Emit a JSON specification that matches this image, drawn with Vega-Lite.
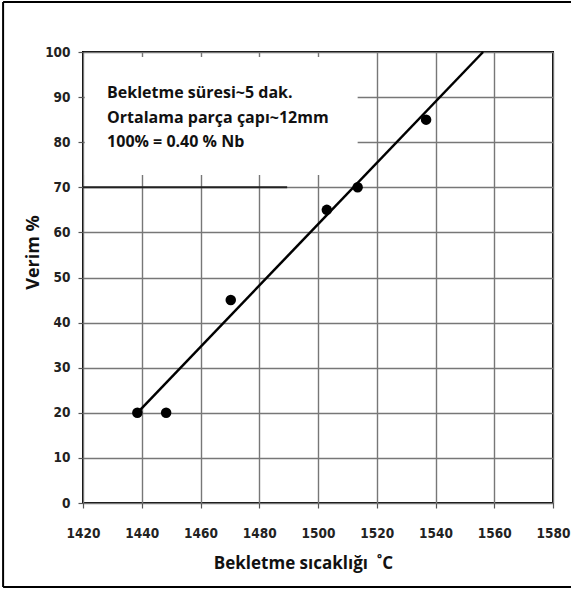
{
  "$schema": "https://vega.github.io/schema/vega-lite/v6.json",
  "autosize": "none",
  "width": 470,
  "height": 451,
  "padding": {"left": 83, "top": 52, "right": 18, "bottom": 86},
  "background": "white",
  "config": {
    "view": {"stroke": "#000", "strokeWidth": 2},
    "axis": {
      "domain": false,
      "grid": true,
      "gridColor": "#777",
      "gridWidth": 1.4,
      "gridOpacity": 1,
      "tickColor": "#555",
      "tickWidth": 1.2,
      "tickSize": 5,
      "labelFont": "Liberation Sans Narrow, DejaVu Sans Condensed, Arial",
      "labelFontWeight": "bold",
      "labelFontSize": 13.5,
      "labelColor": "#222",
      "labelFlush": false,
      "labelOverlap": false,
      "titleFont": "Open Sans",
      "titleFontWeight": "bold",
      "titleColor": "#111"
    }
  },
  "datasets": {
    "points": [
      {"temp": 1438.5, "verim": 20},
      {"temp": 1448.3, "verim": 20},
      {"temp": 1470.3, "verim": 45},
      {"temp": 1503.0, "verim": 65},
      {"temp": 1513.5, "verim": 70},
      {"temp": 1536.8, "verim": 85}
    ],
    "fit": [
      {"temp": 1438.5, "verim": 20},
      {"temp": 1556.2, "verim": 100}
    ],
    "box": [
      {"x1": 1420.6, "x2": 1513.5, "y1": 72.7, "y2": 98.9}
    ],
    "bold70": [
      {"x1": 1420, "x2": 1489.5, "y": 70}
    ],
    "note": [
      {"x": 1428.2, "y": 90.9, "t": "Bekletme süresi~5 dak."},
      {"x": 1428.2, "y": 85.4, "t": "Ortalama parça çapı~12mm"},
      {"x": 1428.2, "y": 80.0, "t": "100% = 0.40 % Nb"}
    ],
    "frame": [
      {"x1": 1392.8, "x2": 1392.8, "y1": -18.6, "y2": 111.1},
      {"x1": 1392.8, "x2": 1600, "y1": 111.1, "y2": 111.1},
      {"x1": 1392.8, "x2": 1600, "y1": -18.6, "y2": -18.6}
    ]
  },
  "layer": [
    {
      "data": {"name": "box"},
      "mark": {"type": "rect", "fill": "white", "stroke": null},
      "encoding": {
        "x": {"field": "x1", "type": "quantitative",
          "scale": {"domain": [1420, 1580], "nice": false, "zero": false},
          "axis": {"values": [1420, 1440, 1460, 1480, 1500, 1520, 1540, 1560, 1580], "format": "d",
            "title": "Bekletme sıcaklığı \u00a0˚C", "titleFontSize": 17, "titleX": 220, "titleY": 60,
            "titleBaseline": "middle", "titleAnchor": null, "labelPadding": 18, "labelBaseline": "top"}},
        "x2": {"field": "x2"},
        "y": {"field": "y1", "type": "quantitative",
          "scale": {"domain": [0, 100], "nice": false},
          "axis": {"values": [0, 10, 20, 30, 40, 50, 60, 70, 80, 90, 100],
            "title": "Verim %", "titleFontSize": 18, "titleX": -50, "titleY": 200,
            "titleBaseline": "middle", "titleAnchor": null, "labelPadding": 8}},
        "y2": {"field": "y2"}
      }
    },
    {
      "data": {"name": "bold70"},
      "mark": {"type": "rule", "color": "#222", "strokeWidth": 2},
      "encoding": {
        "x": {"field": "x1", "type": "quantitative"},
        "x2": {"field": "x2"},
        "y": {"field": "y", "type": "quantitative"}
      }
    },
    {
      "data": {"name": "fit"},
      "mark": {"type": "line", "color": "#000", "strokeWidth": 2.5},
      "encoding": {
        "x": {"field": "temp", "type": "quantitative"},
        "y": {"field": "verim", "type": "quantitative"}
      }
    },
    {
      "data": {"name": "points"},
      "mark": {"type": "circle", "color": "#000", "opacity": 1, "size": 110},
      "encoding": {
        "x": {"field": "temp", "type": "quantitative"},
        "y": {"field": "verim", "type": "quantitative"}
      }
    },
    {
      "data": {"name": "note"},
      "mark": {"type": "text", "align": "left", "baseline": "middle", "font": "Open Sans", "fontWeight": "bold", "fontSize": 16, "color": "#111"},
      "encoding": {
        "x": {"field": "x", "type": "quantitative"},
        "y": {"field": "y", "type": "quantitative"},
        "text": {"field": "t"}
      }
    },
    {
      "data": {"name": "frame"},
      "mark": {"type": "rule", "color": "#000", "strokeWidth": 2, "clip": false},
      "encoding": {
        "x": {"field": "x1", "type": "quantitative"},
        "x2": {"field": "x2"},
        "y": {"field": "y1", "type": "quantitative"},
        "y2": {"field": "y2"}
      }
    }
  ]
}
